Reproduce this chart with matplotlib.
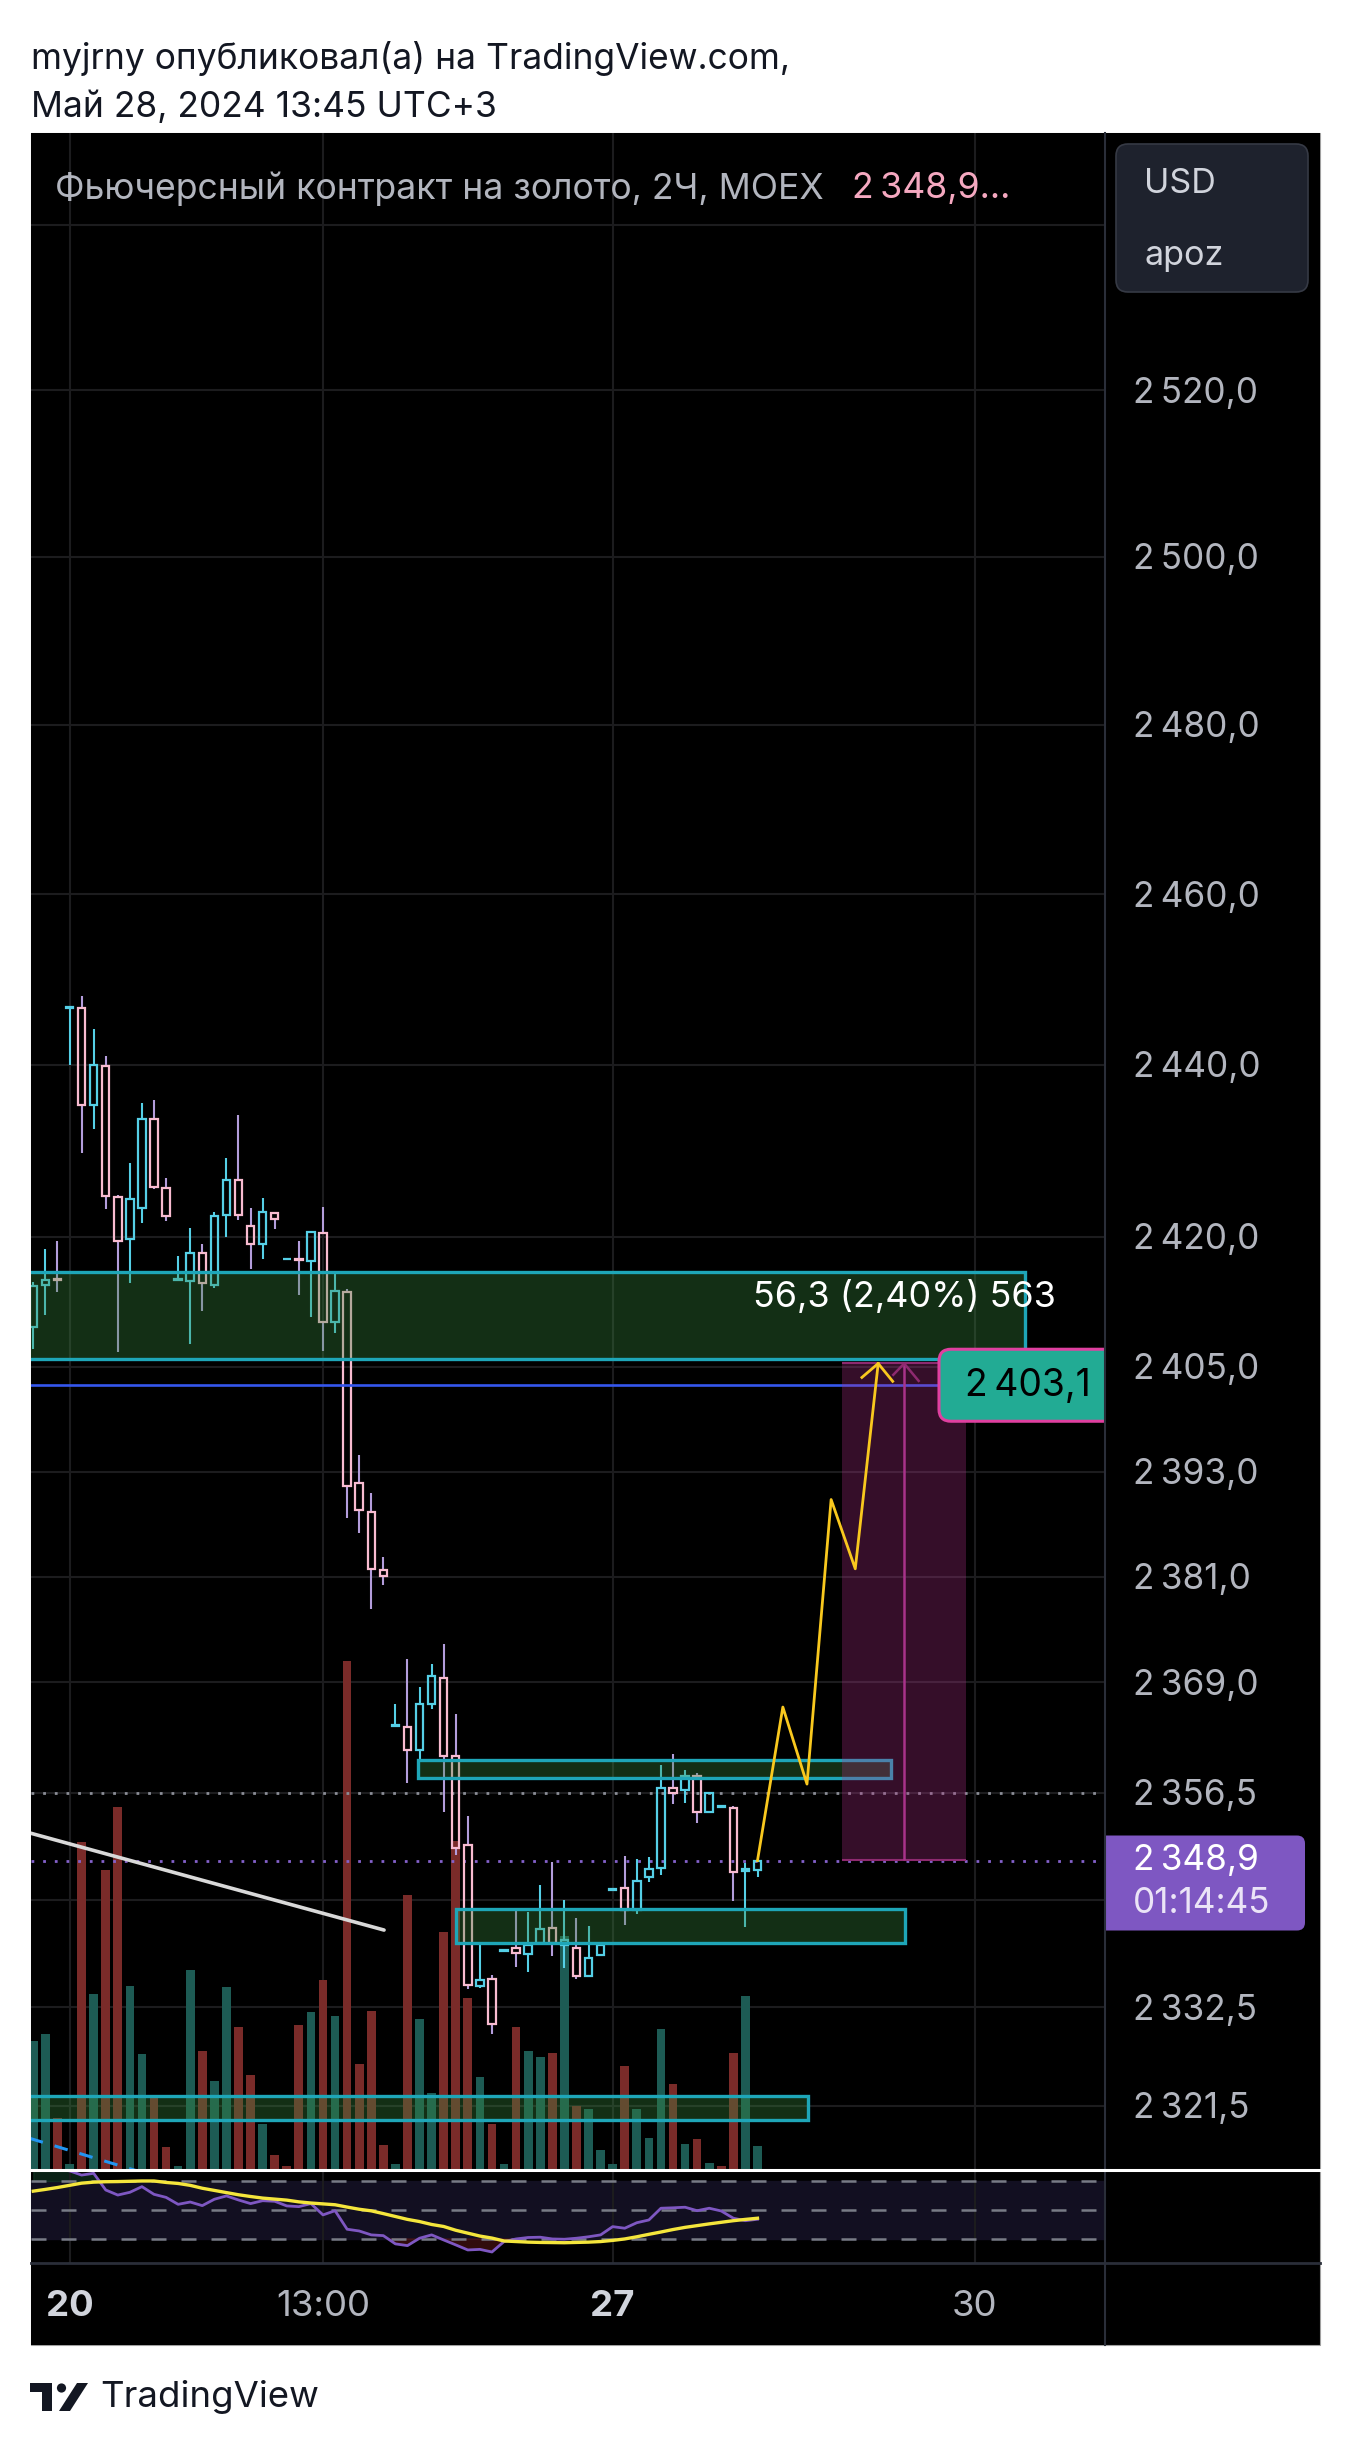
import numpy as np
import matplotlib
matplotlib.use("Agg")
import matplotlib.pyplot as plt
from matplotlib.patches import Rectangle, FancyBboxPatch, Polygon, Circle
from matplotlib.transforms import blended_transform_factory as blend, offset_copy
from matplotlib.ticker import NullLocator

plt.rcParams['font.family'] = ['Inter', 'DejaVu Sans']

# ---------------- data ----------------
opens = [2409.6, 2414.4, 2415.1, 2446.6, 2446.7, 2435.3, 2439.9, 2424.6, 2419.8, 2423.4,
         2433.7, 2425.7, 2415.0, 2414.9, 2418.2, 2414.5, 2422.5, 2426.6, 2421.3, 2419.2,
         2422.8, 2417.4, 2417.5, 2417.2, 2420.5, 2410.2, 2413.6, 2391.7, 2388.4, 2381.8,
         2364.1, 2364.0, 2361.4, 2366.6, 2369.5, 2360.7, 2350.6, 2334.8, 2335.6, 2338.8,
         2339.1, 2338.4, 2339.7, 2341.3, 2339.4, 2339.1, 2336.0, 2338.3, 2345.6, 2345.8,
         2343.4, 2347.0, 2348.1, 2357.1, 2356.8, 2358.4, 2354.4, 2354.9, 2354.8, 2347.7,
         2347.8]
highs = [2414.8, 2418.6, 2419.5, 2446.8, 2448.0, 2444.2, 2441.0, 2424.9, 2428.6, 2435.5,
         2435.9, 2426.8, 2417.8, 2421.0, 2419.2, 2422.9, 2429.2, 2434.1, 2423.4, 2424.5,
         2422.9, 2417.5, 2419.5, 2420.7, 2423.5, 2416.1, 2414.0, 2394.9, 2390.5, 2383.2,
         2366.6, 2371.6, 2368.5, 2371.1, 2373.3, 2365.4, 2353.9, 2339.6, 2336.1, 2339.0,
         2343.4, 2343.1, 2346.2, 2348.7, 2344.5, 2342.5, 2341.5, 2339.5, 2345.8, 2349.4,
         2349.1, 2349.3, 2359.6, 2360.9, 2359.1, 2358.7, 2356.6, 2355.1, 2355.0, 2348.6,
         2349.0]
lows = [2407.1, 2411.0, 2413.6, 2440.0, 2429.7, 2432.5, 2423.2, 2406.7, 2414.7, 2421.6,
        2425.6, 2421.8, 2414.9, 2407.6, 2411.4, 2414.1, 2420.0, 2422.0, 2416.3, 2417.4,
        2420.9, 2417.3, 2413.3, 2410.7, 2406.8, 2408.9, 2387.7, 2386.0, 2377.3, 2380.1,
        2364.0, 2357.6, 2360.3, 2366.0, 2354.3, 2349.5, 2334.5, 2334.6, 2329.5, 2338.7,
        2337.0, 2336.4, 2339.5, 2338.2, 2336.8, 2335.6, 2335.8, 2338.2, 2345.5, 2341.7,
        2342.9, 2346.5, 2347.3, 2355.3, 2355.4, 2353.1, 2354.2, 2354.8, 2344.4, 2341.4,
        2347.0]
closes = [2414.3, 2415.0, 2415.0, 2446.8, 2435.3, 2440.0, 2424.7, 2419.5, 2424.4, 2433.7,
          2425.8, 2422.4, 2415.1, 2418.1, 2414.7, 2422.4, 2426.6, 2422.5, 2419.2, 2422.9,
          2422.1, 2417.45, 2417.3, 2420.6, 2410.2, 2413.7, 2391.3, 2388.6, 2381.9, 2381.1,
          2364.2, 2361.4, 2366.5, 2369.7, 2360.7, 2350.3, 2335.0, 2335.5, 2330.6, 2338.9,
          2338.5, 2339.4, 2341.2, 2339.7, 2340.0, 2336.0, 2338.0, 2339.4, 2345.7, 2343.4,
          2346.6, 2348.0, 2357.1, 2356.5, 2358.4, 2354.3, 2356.5, 2355.0, 2347.6, 2347.9,
          2348.9]
volumes = [128, 135, 51, 5, 327, 175, 299, 362, 183, 115,
           72, 22, 3, 199, 118, 88, 182, 142, 94, 45,
           14, 3, 144, 157, 189, 153, 508, 105, 158, 24,
           5, 274, 150, 76, 237, 328, 171, 92, 45, 5,
           142, 118, 112, 116, 233, 63, 60, 19, 5, 103,
           60, 31, 140, 85, 25, 30, 6, 3, 116, 173,
           23]
vol_up = [1, 1, 0, 1, 0, 1, 0, 0, 1, 1,
          0, 0, 1, 1, 0, 1, 1, 0, 0, 1,
          0, 0, 0, 1, 0, 1, 0, 0, 0, 0,
          1, 0, 1, 1, 0, 0, 0, 1, 0, 1,
          0, 1, 1, 0, 1, 0, 1, 1, 1, 0,
          1, 1, 1, 0, 1, 0, 1, 0, 0, 1,
          1]
rsi = [78, 79, 78, 77, 74.1, 75.3, 63.8, 60.3, 62.2, 66.1,
       60.8, 58.7, 53.9, 55.5, 53.0, 57.4, 59.7, 56.9, 54.4, 56.4,
       56.0, 52.8, 52.3, 54.4, 46.6, 49.5, 36.7, 35.5, 32.8, 32.3,
       26.6, 25.4, 30.5, 32.8, 29.3, 25.9, 22.4, 22.8, 21.0, 28.2,
       30.0, 31.0, 31.2, 30.0, 29.8, 30.5, 31.5, 32.8, 38.5, 37.4,
       41.2, 43.1, 51.2, 51.5, 51.9, 49.5, 51.2, 49.3, 44.3, 42.6,
       43.6]
rsi_ma = [63.0, 64.2, 65.5, 67.0, 68.5, 69.2, 69.5, 69.6, 69.8, 70.0,
          70.0, 69.0, 68.3, 67.0, 65.0, 63.5, 62.0, 60.5, 59.3, 58.2,
          57.5, 56.8, 55.6, 54.8, 54.2, 53.6, 52.0, 50.5, 49.4, 47.5,
          45.5, 43.5, 42.0, 40.0, 38.6, 36.0, 34.0, 32.0, 30.6, 28.6,
          28.2, 27.8, 27.6, 27.5, 27.4, 27.6, 27.8, 28.2, 29.0, 30.0,
          31.5, 33.2, 34.8, 36.5, 38.0, 39.2, 40.4, 41.5, 42.6, 43.5,
          44.3]

price_ticks = [2520.0, 2500.0, 2480.0, 2460.0, 2440.0, 2420.0, 2405.0, 2393.0,
               2381.0, 2369.0, 2356.5, 2332.5, 2321.5]
hidden_ticks = [2540.0, 2344.5]
time_labels = ["20", "13:00", "27", "30"]
time_bold = [True, False, True, False]
time_pos = [3, 24, 48, 78]

last_price = 2348.9
prev_level = 2356.5
countdown = "01:14:45"
line_level = 2402.9

zone_left = [-1.0, 31.9, 35.0, -1.0]
zone_right = [82.2, 71.1, 72.2, 64.2]
zone_low = [2405.9, 2358.2, 2339.6, 2319.9]
zone_high = [2416.0, 2360.2, 2343.5, 2322.6]

proj_left, proj_right = 67.0, 77.3
proj_low, proj_high = 2349.0, 2405.4
proj_label = "56,3 (2,40%) 563"
path_idx = [60.0, 62.1, 64.1, 66.1, 68.1, 70.0]
path_price = [2348.9, 2366.2, 2357.5, 2389.8, 2381.9, 2405.4]
trend_idx = [-0.3, 29.06]
trend_price = [2352.0, 2341.1]
ma_idx = [-0.3, 9.8]
ma_price = [2317.9, 2313.8]

title1 = "myjrny опубликовал(а) на TradingView.com,"
title2 = "Май 28, 2024 13:45 UTC+3"
legend = "Фьючерсный контракт на золото, 2Ч, MOEX"
label_value = "2\u2009403,1"

# ---------------- layout (pixels) ----------------
W, H = 1350, 2451
CH_L, CH_R = 31, 1320
PANE_R = 1105
MAIN_T, MAIN_B = 133, 2169
RSI_T, RSI_B = 2171, 2263
BOT = 2345
BAR_PX, X0_PX = 12.07, 33.3
XLIM = ((CH_L - X0_PX) / BAR_PX, (PANE_R - X0_PX) / BAR_PX)
YLIM = (2314.5, 2551.2)

BG = 'black'
GRID = '#1c1c1e'
UP = '#55cfe6'
DN = '#f8bbd0'
DN_WICK = '#b39ddb'
VOL_UP = '#1d5b54'
VOL_DN = '#7a2b29'
ZONE_EDGE = '#1ea6b8'
ZONE_FILL = '#39893f'
TXT = '#b2b5be'

fig = plt.figure(figsize=(W / 100, H / 100), dpi=100)
fig.patch.set_facecolor('white')


def axes_px(x0, y0, x1, y1, z=0):
    a = fig.add_axes([x0 / W, 1 - y1 / H, (x1 - x0) / W, (y1 - y0) / H])
    a.set_zorder(z)
    for s in a.spines.values():
        s.set_visible(False)
    a.xaxis.set_major_locator(NullLocator())
    a.yaxis.set_major_locator(NullLocator())
    a.xaxis.set_minor_locator(NullLocator())
    a.yaxis.set_minor_locator(NullLocator())
    return a


# background
ax_back = axes_px(0, 0, W, H, z=-5)
ax_back.set_xlim(0, W)
ax_back.set_ylim(H, 0)
ax_back.axis('off')
ax_back.add_patch(Rectangle((CH_L, MAIN_T), CH_R - CH_L, BOT - MAIN_T,
                            facecolor=BG, edgecolor='#a0a0a0', lw=0.8))

# grid axes
ax_bg = axes_px(CH_L, MAIN_T, PANE_R, MAIN_B, z=-1)
ax_bg.set_facecolor(BG)
ax_bg.set_yscale('log')
ax_bg.yaxis.set_minor_locator(NullLocator())
ax_bg.yaxis.set_major_locator(NullLocator())
ax_bg.set_xlim(*XLIM)
ax_bg.set_ylim(*YLIM)
for v in price_ticks + hidden_ticks:
    ax_bg.axhline(v, color=GRID, lw=1.5)
for p in time_pos:
    ax_bg.axvline(p, color=GRID, lw=1.5)

# volume axes
ax_vol = axes_px(CH_L, MAIN_T, PANE_R, MAIN_B, z=0)
ax_vol.patch.set_visible(False)
xs = np.arange(len(volumes))
ax_vol.bar(xs, volumes, width=0.72, color=[VOL_UP if u else VOL_DN for u in vol_up],
           align='center', linewidth=0)
ax_vol.set_xlim(*XLIM)
ax_vol.set_ylim(0, MAIN_B - MAIN_T)

# main price axes
ax = axes_px(CH_L, MAIN_T, PANE_R, MAIN_B, z=1)
ax.patch.set_visible(False)
ax.set_yscale('log')
ax.yaxis.set_minor_locator(NullLocator())
ax.yaxis.set_major_locator(NullLocator())
ax.set_xlim(*XLIM)
ax.set_ylim(*YLIM)

# candles (hollow)
bw = 0.62
for i, (o, h, l, c) in enumerate(zip(opens, highs, lows, closes)):
    up = c >= o
    col = UP if up else DN
    wcol = UP if up else DN_WICK
    top, bot = max(o, c), min(o, c)
    ax.vlines(i, top, h, color=wcol, lw=1.5, zorder=2)
    ax.vlines(i, l, bot, color=wcol, lw=1.5, zorder=2)
    ax.add_patch(Rectangle((i - bw / 2, bot), bw, max(top - bot, 0.05),
                           facecolor='none', edgecolor=col, lw=1.6, zorder=2.1))

# dotted level lines
ax.axhline(prev_level, color='#8a8d96', lw=2.0, ls=(0, (1, 3.2)), zorder=1.5)
ax.axhline(last_price, color='#8461cc', lw=2.0, ls=(0, (1, 3.2)), zorder=1.5)

# zones
for xl, xr, lo, hi in zip(zone_left, zone_right, zone_low, zone_high):
    ax.add_patch(Rectangle((xl, lo), xr - xl, hi - lo, facecolor=ZONE_FILL, alpha=0.35,
                           edgecolor='none', zorder=3))
    ax.add_patch(Rectangle((xl, lo), xr - xl, hi - lo, facecolor='none',
                           edgecolor=ZONE_EDGE, lw=2.4, zorder=3.1))

# blue horizontal line
ax.axhline(line_level, color='#3557ee', lw=1.9, zorder=3.2)

# projection box
ax.add_patch(Rectangle((proj_left, proj_low), proj_right - proj_left, proj_high - proj_low,
                       facecolor='#b0308a', alpha=0.3, edgecolor='none', zorder=3.3))
ax.hlines([proj_low, proj_high], proj_left, proj_right, color='#8e2a70', lw=1.5, zorder=3.4)
pmid = (proj_left + proj_right) / 2
ax.vlines(pmid, proj_low, proj_high, color='#a8338a', lw=1.8, zorder=3.4)
ax.plot([pmid - 0.9, pmid, pmid + 1.2], [proj_high - 1.3, proj_high, proj_high - 2.0],
        color='#8e2a70', lw=1.8, zorder=3.4)
proj_text = ax.text(pmid, 2413.1, proj_label, ha='center', va='center', color='white',
                    fontsize=20, zorder=6)

# trend line and dashed MA
ax.plot(trend_idx, trend_price, color='#d9d9d9', lw=2.6, solid_capstyle='round', zorder=3.5)
ax.plot(ma_idx, ma_price, color='#2196f3', lw=2.2, ls=(0, (4.5, 4)), zorder=3.5)

# yellow projected path
ax.plot(path_idx, path_price, color='#f9c81e', lw=2.0, zorder=5)
ax.plot([path_idx[-1] - 1.35, path_idx[-1], path_idx[-1] + 1.2],
        [path_price[-1] - 1.6, path_price[-1], path_price[-1] - 2.05],
        color='#f9c81e', lw=2.0, zorder=5)

ax.set_xlim(*XLIM)
ax.set_ylim(*YLIM)

# price panel
ax_p = axes_px(PANE_R, MAIN_T, CH_R, MAIN_B, z=1)
ax_p.set_facecolor(BG)
ax_p.set_yscale('log')
ax_p.yaxis.set_minor_locator(NullLocator())
ax_p.yaxis.set_major_locator(NullLocator())
ax_p.set_xlim(0, 1)
ax_p.set_ylim(*YLIM)


def fmt(v):
    s = f"{v:.1f}".replace('.', ',')
    return s[0] + '\u2009' + s[1:]


r = fig.canvas.get_renderer()


def fit(t, target):
    w = t.get_window_extent(r).width
    if w > 0:
        t.set_fontsize(t.get_fontsize() * target / w)
    return t.get_fontsize()


tp = offset_copy(blend(ax_p.transAxes, ax_p.transData), fig=fig, y=-3, units='dots')
price_texts = [ax_p.text(0.13, v, fmt(v), transform=tp, va='center', ha='left',
                         color=TXT, fontsize=20) for v in price_ticks]
pfs = fit(price_texts[0], 125)
for t in price_texts:
    t.set_fontsize(pfs)
fit(proj_text, 303)

# RSI pane
ax_rsi = axes_px(CH_L, RSI_T, PANE_R, RSI_B, z=1)
ax_rsi.set_facecolor(BG)
for p in time_pos:
    ax_rsi.axvline(p, color=GRID, lw=1.5)
ax_rsi.axhspan(30, 70, color='#120f21')
for lv in (70, 50, 30):
    ax_rsi.axhline(lv, color='#787b86', lw=1.8, ls=(0, (6, 6)))
rx = np.arange(len(rsi))
ra = np.array(rsi)
ax_rsi.fill_between(rx, ra, 30, where=ra < 30, interpolate=True, color='#5a1616', alpha=0.55)
ax_rsi.fill_between(rx, ra, 70, where=ra > 70, interpolate=True, color='#123a26', alpha=0.6)
ax_rsi.plot(rx, rsi, color='#7e57c2', lw=2.0)
ax_rsi.plot(rx, rsi_ma, color='#f5e63c', lw=2.4)
ax_rsi.set_xlim(*XLIM)
ax_rsi.set_ylim(13.4, 76.9)

# time axis
ax_t = axes_px(CH_L, RSI_B, PANE_R, BOT, z=1)
ax_t.set_facecolor(BG)
ax_t.set_xlim(*XLIM)
ax_t.set_ylim(0, 1)
tt = blend(ax_t.transData, ax_t.transAxes)
time_texts = []
for lab, pos, b in zip(time_labels, time_pos, time_bold):
    time_texts.append(ax_t.text(pos, 0.47, lab, transform=tt, ha='center', va='center',
                                color='#d1d4dc' if b else TXT,
                                fontweight='bold' if b else 'normal', fontsize=20))
tfs = fit(time_texts[1], 94)
for t in time_texts:
    t.set_fontsize(tfs)

# overlay (pixel coordinates)
ax_o = axes_px(0, 0, W, H, z=20)
ax_o.patch.set_visible(False)
ax_o.set_xlim(0, W)
ax_o.set_ylim(H, 0)
ax_o.axis('off')


def py(price):
    return H - ax.transData.transform((0, price))[1]


# separators
ax_o.plot([PANE_R, PANE_R], [MAIN_T, BOT], color='#2a2e39', lw=1.5)
ax_o.plot([CH_L, CH_R], [RSI_B, RSI_B], color='#2a2e39', lw=2.0)
ax_o.plot([CH_L, CH_R], [MAIN_B + 1, MAIN_B + 1], color='white', lw=2.2)

# header
t1 = ax_o.text(CH_L, 59, title1, ha='left', va='center', color='#131722', fontsize=20)
hfs = fit(t1, 758)
ax_o.text(CH_L, 107, title2, ha='left', va='center', color='#131722', fontsize=hfs)

# legend
tl = ax_o.text(55, 189, legend, ha='left', va='center', color=TXT, fontsize=20)
lfs = fit(tl, 770)
ax_o.text(852, 189, fmt(last_price) + "...", ha='left', va='center', color='#f5a8c0',
          fontsize=lfs)

# USD box
ax_o.add_patch(FancyBboxPatch((1116, 144), 192, 148,
                              boxstyle='round,pad=0,rounding_size=12',
                              facecolor='#1e222d', edgecolor='#363a45', lw=1.2))
tu = ax_o.text(1144, 184, "USD", ha='left', va='center', color='#d1d4dc', fontsize=20)
ufs = fit(tu, 72)
ax_o.text(1144, 256, "apoz", ha='left', va='center', color='#d1d4dc', fontsize=ufs)

# 2403,1 label
yl = py(line_level)
lb = FancyBboxPatch((939, yl - 36), 190, 72, boxstyle='round,pad=0,rounding_size=12',
                    facecolor='#22ab94', edgecolor='#e040a0', lw=2.2)
ax_o.add_patch(lb)
lb.set_clip_box(ax.bbox)
tlab = ax_o.text(1028, yl + 1, label_value, ha='center', va='center', color='black',
                 fontsize=pfs)
fit(tlab, 126)

# current price label
yc = py(last_price)
cb = FancyBboxPatch((1090, yc - 25), 215, 95, boxstyle='round,pad=0,rounding_size=8',
                    facecolor='#7e57c2', edgecolor='none')
ax_o.add_patch(cb)
cb.set_clip_box(ax_p.bbox)
ax_o.text(1133, yc, fmt(last_price), ha='left', va='center', color='white', fontsize=pfs)
ax_o.text(1133, yc + 43, countdown, ha='left', va='center', color='#ebe4f7', fontsize=pfs)

# footer logo
LOGO = '#131722'
ax_o.add_patch(Rectangle((30, 2383), 22, 9, facecolor=LOGO, edgecolor='none'))
ax_o.add_patch(Rectangle((42, 2383), 10, 28, facecolor=LOGO, edgecolor='none'))
ax_o.add_patch(Circle((61.5, 2388), 4.6, facecolor=LOGO, edgecolor='none'))
ax_o.add_patch(Polygon([(59, 2411), (70, 2411), (88, 2383), (77, 2383)], closed=True,
                       facecolor=LOGO, edgecolor='none'))
tv = ax_o.text(100, 2397, "TradingView", ha='left', va='center', color=LOGO, fontsize=20)
fit(tv, 218)

fig.savefig('out.png', dpi=100, facecolor='white')
